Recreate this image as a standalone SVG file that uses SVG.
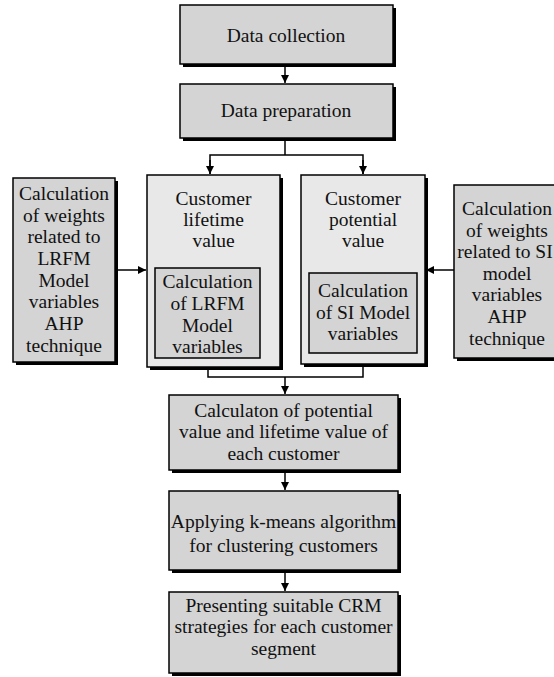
<svg xmlns="http://www.w3.org/2000/svg" width="554" height="677" viewBox="0 0 554 677">
<style>
.sh{fill:#000}
.b{fill:#d4d4d4;stroke:#000;stroke-width:1.5}
.l{fill:#e8e8e8;stroke:#000;stroke-width:1.5}
.t{font-family:"Liberation Serif","Times New Roman",serif;font-size:19.5px;fill:#111;text-anchor:middle}
.c{fill:none;stroke:#000;stroke-width:1.5}
</style>
<defs>
<marker id="a" viewBox="0 0 10 10" refX="10" refY="5" markerWidth="8" markerHeight="8" markerUnits="userSpaceOnUse" orient="auto"><path d="M0,0 L10,5 L0,10 z" fill="#000"/></marker>
</defs>
<rect width="554" height="677" fill="#fff"/>
<g id="data-collection">
<rect class="sh" x="183" y="8" width="213" height="59"/>
<rect class="b" x="180" y="5" width="213" height="59"/>
<text class="t" x="286" y="42">Data collection</text>
</g>
<g id="data-preparation">
<rect class="sh" x="183" y="87" width="213" height="54"/>
<rect class="b" x="180" y="84" width="213" height="54"/>
<text class="t" x="286" y="117">Data preparation</text>
</g>
<g id="lrfm-weights">
<rect class="sh" x="16" y="181" width="102" height="184"/>
<rect class="b" x="13" y="178" width="102" height="184"/>
<text class="t" x="64" y="200">Calculation</text>
<text class="t" x="64" y="221.7">of weights</text>
<text class="t" x="64" y="243.3">related to</text>
<text class="t" x="64" y="265">LRFM</text>
<text class="t" x="64" y="286.7">Model</text>
<text class="t" x="64" y="308.3">variables</text>
<text class="t" x="64" y="330">AHP</text>
<text class="t" x="64" y="351.7">technique</text>
</g>
<g id="customer-lifetime-value">
<rect class="sh" x="150" y="178" width="133" height="192"/>
<rect class="l" x="147" y="175" width="133" height="192"/>
<text class="t" x="213.5" y="205">Customer</text>
<text class="t" x="213.5" y="226">lifetime</text>
<text class="t" x="213.5" y="247">value</text>
<rect class="b" x="155" y="268" width="105" height="90"/>
<text class="t" x="207.5" y="288">Calculation</text>
<text class="t" x="207.5" y="310">of LRFM</text>
<text class="t" x="207.5" y="332">Model</text>
<text class="t" x="207.5" y="353">variables</text>
</g>
<g id="customer-potential-value">
<rect class="sh" x="304" y="178" width="124" height="189"/>
<rect class="l" x="301" y="175" width="124" height="189"/>
<text class="t" x="363" y="205">Customer</text>
<text class="t" x="363" y="226">potential</text>
<text class="t" x="363" y="247">value</text>
<rect class="b" x="309" y="273" width="108" height="80"/>
<text class="t" x="363" y="297">Calculation</text>
<text class="t" x="363" y="319">of SI Model</text>
<text class="t" x="363" y="340">variables</text>
</g>
<g id="si-weights">
<rect class="sh" x="457" y="188" width="103" height="173"/>
<rect class="b" x="454" y="185" width="103" height="173"/>
<text class="t" x="507" y="215">Calculation</text>
<text class="t" x="507" y="237">of weights</text>
<text class="t" x="505" y="258">related to SI</text>
<text class="t" x="507" y="280">model</text>
<text class="t" x="507" y="301">variables</text>
<text class="t" x="507" y="323">AHP</text>
<text class="t" x="507" y="345">technique</text>
</g>
<g id="calc-values">
<rect class="sh" x="172" y="398" width="229" height="75"/>
<rect class="b" x="169" y="395" width="229" height="75"/>
<text class="t" x="283.5" y="417">Calculaton of potential</text>
<text class="t" x="283.5" y="438">value and lifetime value of</text>
<text class="t" x="283.5" y="460">each customer</text>
</g>
<g id="kmeans">
<rect class="sh" x="172" y="494" width="229" height="79"/>
<rect class="b" x="169" y="491" width="229" height="79"/>
<text class="t" x="283.5" y="528">Applying k-means algorithm</text>
<text class="t" x="283.5" y="552">for clustering customers</text>
</g>
<g id="crm-strategies">
<rect class="sh" x="172" y="595" width="229" height="81"/>
<rect class="b" x="169" y="592" width="229" height="81"/>
<text class="t" x="283.5" y="612">Presenting suitable CRM</text>
<text class="t" x="283.5" y="633">strategies for each customer</text>
<text class="t" x="283.5" y="655">segment</text>
</g>
<g id="connectors">
<line class="c" x1="285" y1="64" x2="285" y2="83" marker-end="url(#a)"/>
<line class="c" x1="285" y1="138" x2="285" y2="155"/>
<polyline class="c" points="210,174 210,155 363,155 363,174"/>
<line class="c" x1="210" y1="160" x2="210" y2="174" marker-end="url(#a)"/>
<line class="c" x1="363" y1="160" x2="363" y2="174" marker-end="url(#a)"/>
<line class="c" x1="115" y1="270" x2="146" y2="270" marker-end="url(#a)"/>
<line class="c" x1="454" y1="270" x2="426" y2="270" marker-end="url(#a)"/>
<polyline class="c" points="208,367 208,377 363,377 363,364"/>
<line class="c" x1="285" y1="377" x2="285" y2="394" marker-end="url(#a)"/>
<line class="c" x1="285" y1="470" x2="285" y2="490" marker-end="url(#a)"/>
<line class="c" x1="285" y1="570" x2="285" y2="591" marker-end="url(#a)"/>
</g>
</svg>
